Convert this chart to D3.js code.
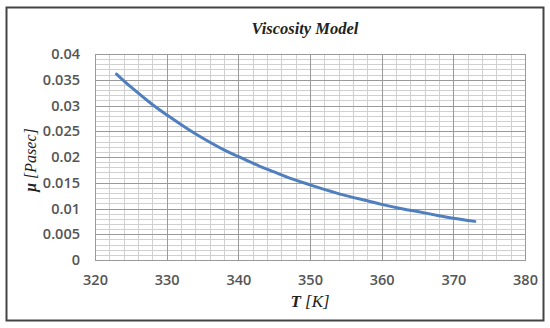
<!DOCTYPE html>
<html><head><meta charset="utf-8">
<script src="https://cdn.jsdelivr.net/npm/d3@7/dist/d3.min.js"></script>
<style>body{margin:0;background:#fff}svg{display:block}</style>
</head><body><svg id="c" width="550" height="328"></svg>
<script>
const temperature = [323,325,328,330,333,335,338,340,343,345,348,350,353,355,358,360,363,365,368,370,373];
const viscosity = [0.0361,0.0336,0.0302,0.0282,0.0254,0.0237,0.0214,0.0201,0.0182,0.0171,0.0155,0.0146,0.0133,0.0125,0.0115,0.0108,0.0099,0.0094,0.0086,0.0081,0.0075];
const xTicks = [320,330,340,350,360,370,380];
const yTicks = [0,0.005,0.01,0.015,0.02,0.025,0.03,0.035,0.04];
const titleText = "Viscosity Model";

const svg = d3.select("#c");
const L=95,R=525,T=54,B=260;
const x = d3.scaleLinear().domain([320,380]).range([L,R]);
const y = d3.scaleLinear().domain([0,0.04]).range([B,T]);

svg.append("rect").attr("x",6.5).attr("y",7.5).attr("width",537).attr("height",313)
  .attr("fill","#fff").attr("stroke","#444").attr("stroke-width",2);

const g = svg.append("g");
const xMinor = d3.range(320,380.001,2);
const yMinor = d3.range(0,0.04001,0.001);
g.selectAll(".xm").data(xMinor).join("line")
  .attr("x1",d=>Math.round(x(d))+0.5).attr("x2",d=>Math.round(x(d))+0.5).attr("y1",T).attr("y2",B)
  .attr("stroke","#d0d0d0").attr("stroke-width",1);
g.selectAll(".ym").data(yMinor).join("line")
  .attr("y1",d=>Math.round(y(d))+0.5).attr("y2",d=>Math.round(y(d))+0.5).attr("x1",L).attr("x2",R)
  .attr("stroke","#d0d0d0").attr("stroke-width",1);
g.selectAll(".xM").data(xTicks).join("line")
  .attr("x1",d=>Math.round(x(d))+0.5).attr("x2",d=>Math.round(x(d))+0.5).attr("y1",T).attr("y2",B)
  .attr("stroke","#9a9a9a").attr("stroke-width",1);
g.selectAll(".yM").data(yTicks).join("line")
  .attr("y1",d=>Math.round(y(d))+0.5).attr("y2",d=>Math.round(y(d))+0.5).attr("x1",L).attr("x2",R)
  .attr("stroke","#9a9a9a").attr("stroke-width",1);
g.append("rect").attr("x",L+0.5).attr("y",T+0.5).attr("width",R-L).attr("height",B-T)
  .attr("fill","none").attr("stroke","#9a9a9a");

const xAxis = svg.append("g").attr("transform",`translate(0,${B})`)
  .call(d3.axisBottom(x).tickValues(xTicks).tickSize(0).tickPadding(15).tickFormat(d3.format("d")));
const yAxis = svg.append("g").attr("transform",`translate(${L},0)`)
  .call(d3.axisLeft(y).tickValues(yTicks).tickSize(0).tickPadding(15).tickFormat(d=>d===0?"0":String(+d.toFixed(3))));
[xAxis,yAxis].forEach(a=>{
  a.select(".domain").remove();
  a.selectAll("text").attr("font-family","'Open Sans','Liberation Sans',sans-serif")
   .attr("font-size",14.5).attr("font-weight",600).attr("fill","#555");
});

svg.append("path").datum(temperature.map((t,i)=>[t,viscosity[i]]))
  .attr("d",d3.line().x(d=>x(d[0])).y(d=>y(d[1])).curve(d3.curveCatmullRom))
  .attr("fill","none").attr("stroke","#4f7fbf").attr("stroke-width",3).attr("stroke-linecap","round");

svg.append("text").attr("x",305).attr("y",34).attr("text-anchor","middle")
  .attr("font-family","'Liberation Serif','DejaVu Serif',serif").attr("font-size",16.5)
  .attr("font-weight","bold").attr("font-style","italic").attr("fill","#222").text(titleText);

const xt = svg.append("text").attr("x",310).attr("y",307).attr("text-anchor","middle")
  .attr("font-family","'Liberation Serif',serif").attr("font-size",17).attr("font-style","italic").attr("fill","#222");
xt.append("tspan").attr("font-weight","bold").text("T ");
xt.append("tspan").text("[K]");

const yt = svg.append("text").attr("transform","translate(36,160) rotate(-90)").attr("text-anchor","middle")
  .attr("font-family","'Liberation Serif',serif").attr("font-size",16).attr("font-style","italic").attr("fill","#222");
yt.append("tspan").attr("font-weight","bold").text("μ ");
yt.append("tspan").text("[Pasec]");
</script></body></html>
